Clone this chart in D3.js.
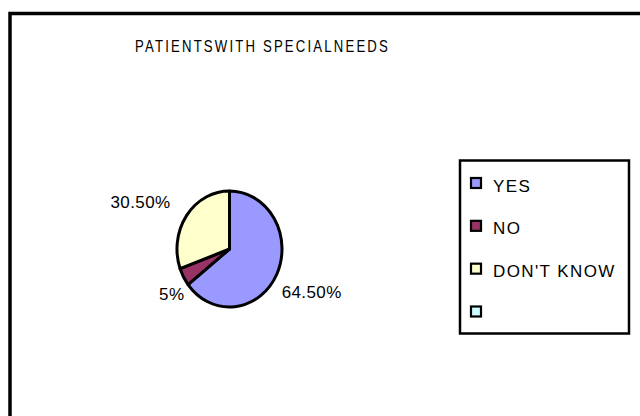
<!DOCTYPE html>
<html>
<head>
<meta charset="utf-8">
<script src="https://cdn.jsdelivr.net/npm/d3@7"></script>
<style>
  html, body { margin: 0; padding: 0; background: #fff; }
  svg { display: block; }
  text { font-family: "Liberation Sans", Arial, sans-serif; fill: #000; }
</style>
</head>
<body>
<svg id="chart" width="640" height="416"></svg>
<script>
// Survey answers
const categories = ["YES", "NO", "DON'T KNOW", ""];
const shares = [64.5, 5, 30.5, 0];
const valueLabels = ["64.50%", "5%", "30.50%", ""];
const colors = ["#9999FF", "#993366", "#FFFFCC", "#CCFFFF"];
const title = "PATIENTSWITH SPECIALNEEDS";

const W = 640, H = 416;
const svg = d3.select("#chart");

// Outer chart frame (runs past the right and bottom edges)
svg.append("rect")
  .attr("x", 10).attr("y", 13.5)
  .attr("width", W + 20).attr("height", H + 20)
  .attr("fill", "#fff").attr("stroke", "#000").attr("stroke-width", 3.5);

// Title, widely tracked in narrow glyphs
svg.append("text")
  .attr("x", 135).attr("y", 52)
  .attr("textLength", 255)
  .attr("lengthAdjust", "spacingAndGlyphs")
  .style("font-size", "17px")
  .style("letter-spacing", "2.8px")
  .text(title);

// Pie (slightly taller than wide)
const cx = 229.5, cy = 249, rx = 52.5, ry = 58;
const pie = d3.pie().sort(null).value(d => d)
  .startAngle(0).endAngle(2 * Math.PI);
const arcs = pie(shares);
const arc = d3.arc().innerRadius(0).outerRadius(1);

const g = svg.append("g")
  .attr("transform", `translate(${cx},${cy}) scale(${rx},${ry})`);
g.selectAll("path")
  .data(arcs.filter(a => a.value > 0))
  .join("path")
  .attr("d", arc)
  .attr("fill", (d) => colors[d.index])
  .attr("stroke", "#000")
  .attr("stroke-width", 3)
  .attr("stroke-linejoin", "round")
  .attr("vector-effect", "non-scaling-stroke");

// Value labels placed just outside the slice midpoints
arcs.forEach((a, i) => {
  if (!(a.value > 0)) return;
  const mid = (a.startAngle + a.endAngle) / 2;
  const px = cx + Math.sin(mid) * rx;
  const py = cy - Math.cos(mid) * ry;
  const right = Math.sin(mid) > 0;
  const lower = Math.cos(mid) < 0;
  svg.append("text")
    .attr("x", right ? px + 5 : (lower ? px + 1 : px - 16))
    .attr("y", lower ? py + 23 : py - 7.5)
    .attr("text-anchor", right ? "start" : "end")
    .style("font-size", "17px")
    .style("letter-spacing", "0.4px")
    .text(valueLabels[i]);
});

// Legend
const lg = svg.append("g");
lg.append("rect")
  .attr("x", 460).attr("y", 160.5)
  .attr("width", 169).attr("height", 173)
  .attr("fill", "#fff").attr("stroke", "#000").attr("stroke-width", 2.5);

const ly = d3.scalePoint().domain(d3.range(categories.length)).range([183, 311.5]);
const items = lg.selectAll("g.item")
  .data(categories)
  .join("g")
  .attr("class", "item")
  .attr("transform", (d, i) => `translate(0,${ly(i)})`);
items.append("rect")
  .attr("x", 471).attr("y", -5)
  .attr("width", 10).attr("height", 10)
  .attr("fill", (d, i) => colors[i])
  .attr("stroke", "#000").attr("stroke-width", 2.2);
items.append("text")
  .attr("x", 493).attr("y", 8.5)
  .style("font-size", "17px")
  .style("letter-spacing", "1.4px")
  .text(d => d);
</script>
</body>
</html>
